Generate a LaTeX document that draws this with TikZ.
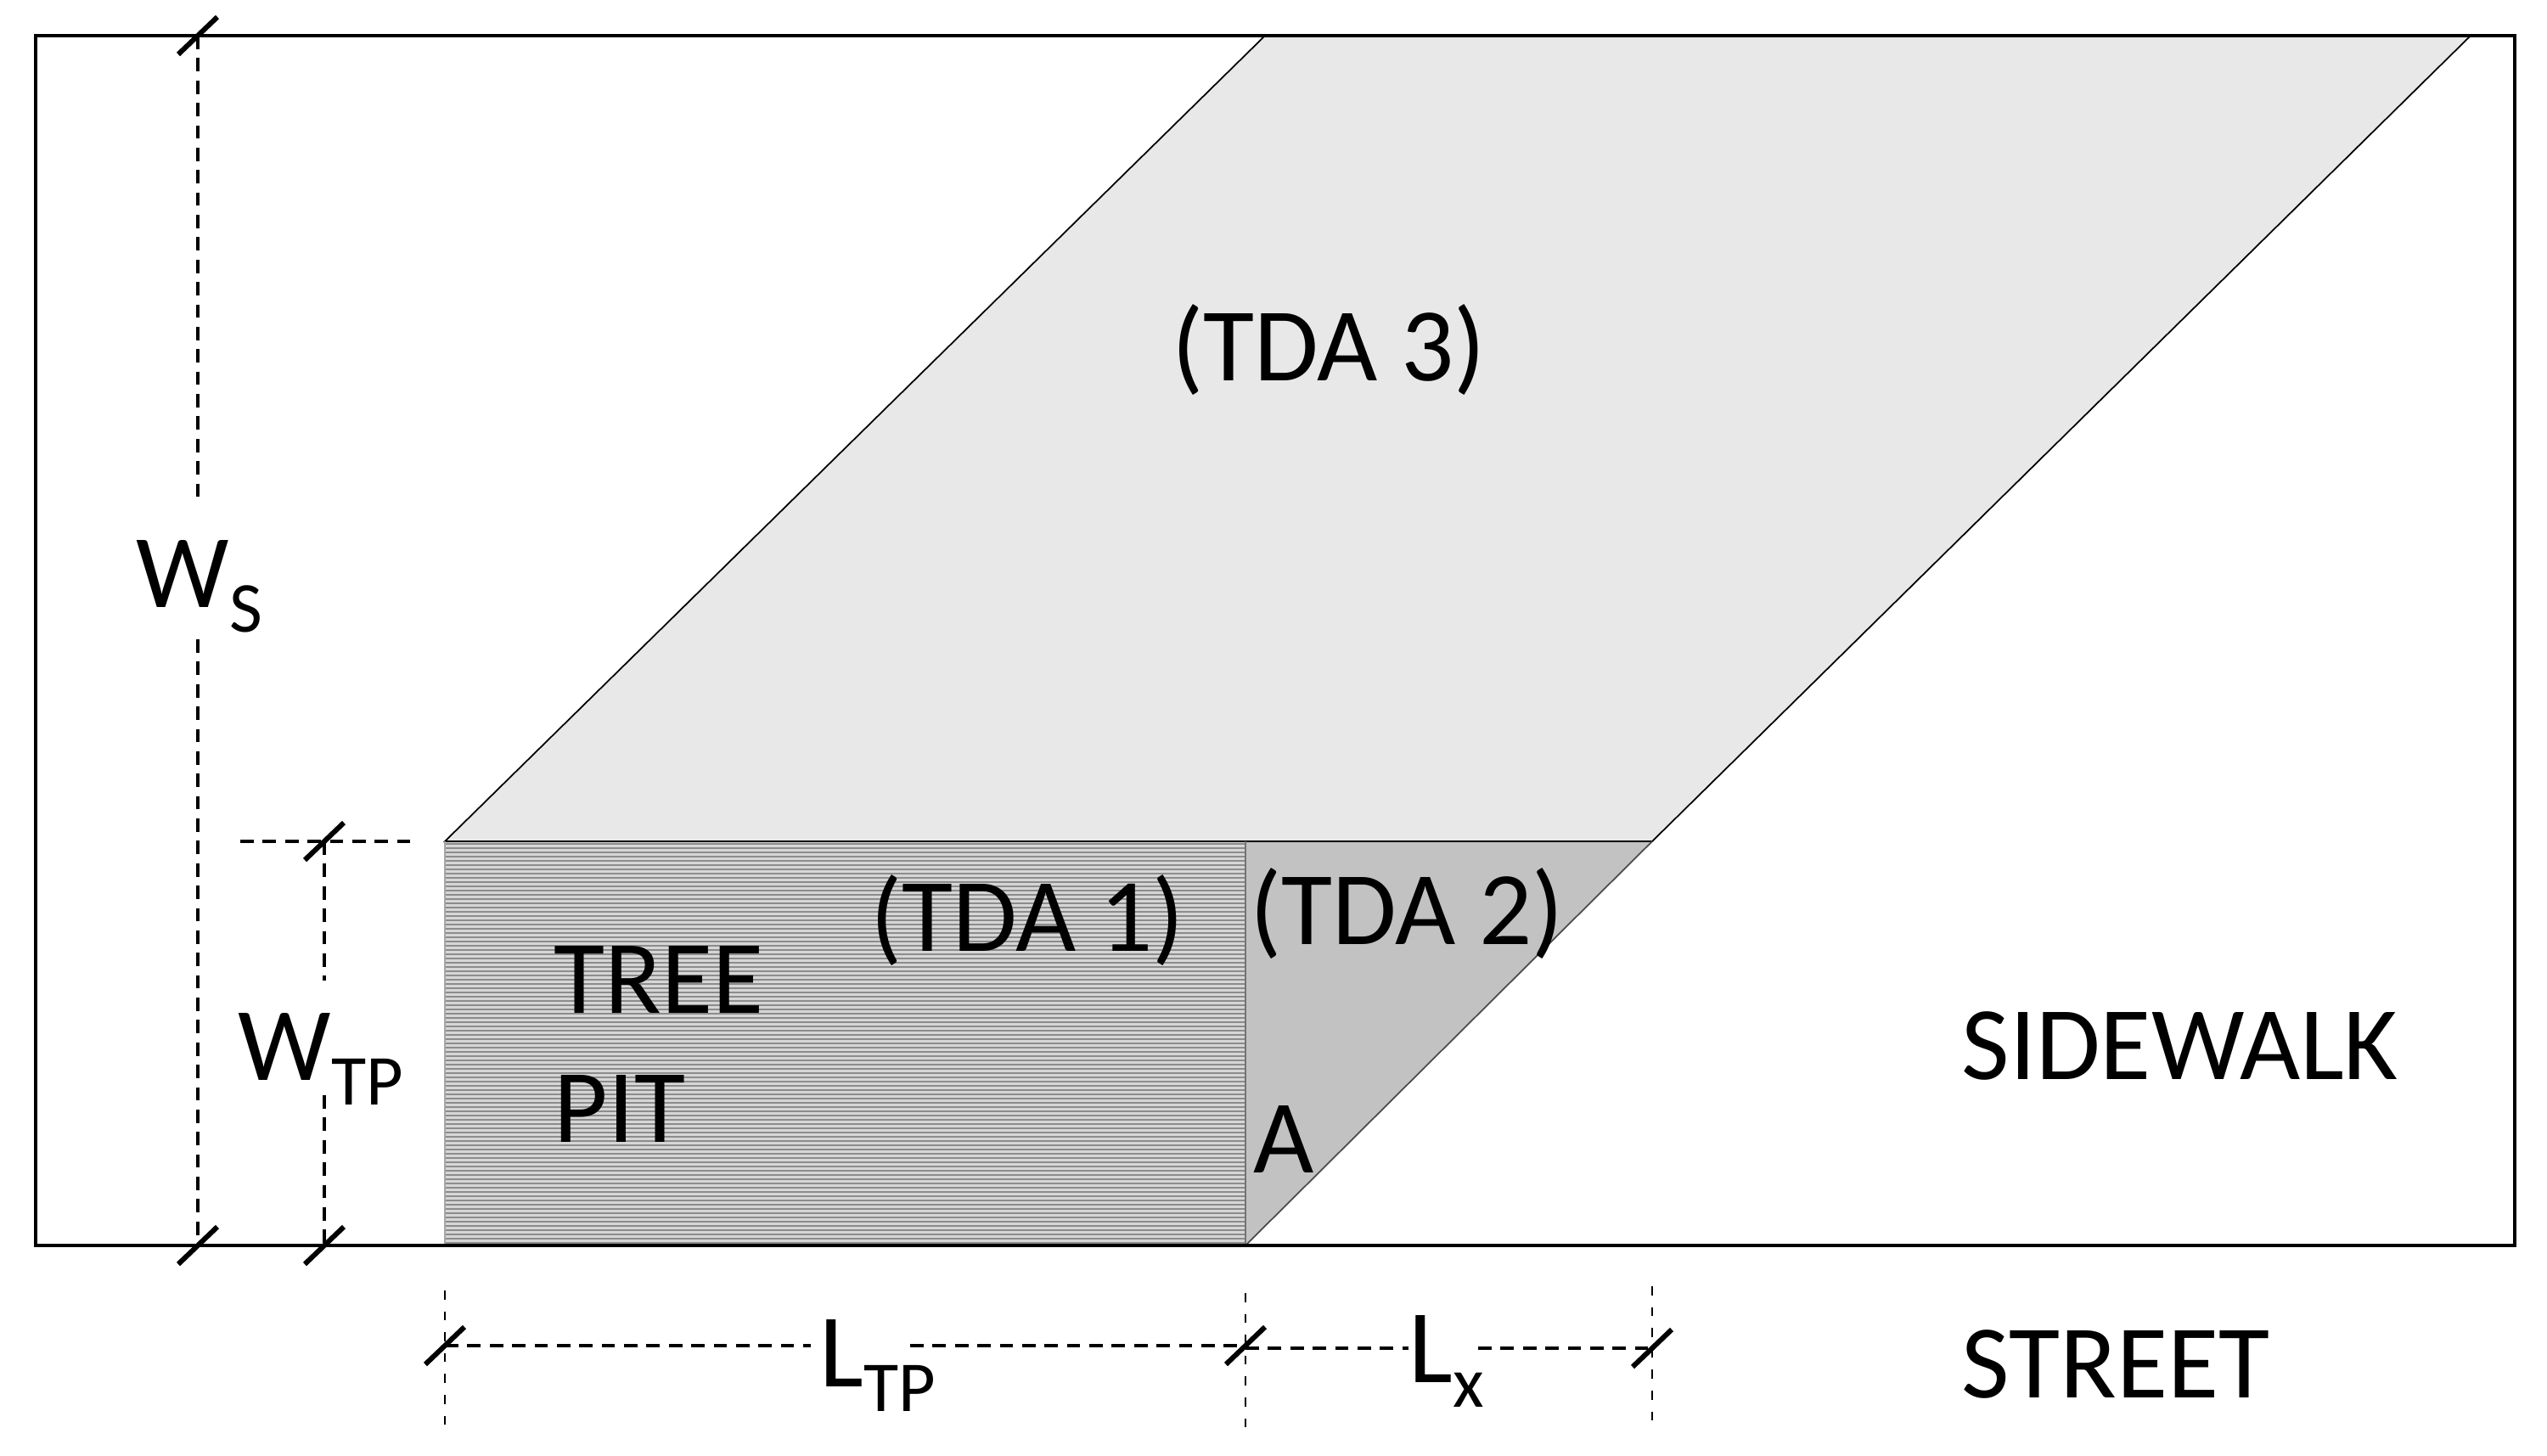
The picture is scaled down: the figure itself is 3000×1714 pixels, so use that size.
\documentclass[tikz,border=0pt]{standalone}
\usepackage{fontspec}
\setmainfont{Carlito}
\newcommand{\dimsub}[1]{\raisebox{-8.5pt}{\fontsize{24}{24}\selectfont #1}}
\begin{document}
\begin{tikzpicture}[x=0.01cm,y=-0.01cm,
  lbl/.style={inner sep=0pt, font=\fontsize{35}{42}\selectfont},
  edgeline/.style={line width=0.5pt},
  border/.style={line width=1pt},
  dimline/.style={line width=1.3pt, dash pattern=on 4.5pt off 3pt},
  extline/.style={line width=0.45pt, dash pattern=on 3pt off 4pt},
  tickmark/.style={line width=1.7pt},
]
\useasboundingbox (0,0) rectangle (3000,1714);

% key points
\coordinate (tpTL) at (524,991);
\coordinate (tpTR) at (1467,991);
\coordinate (tpBR) at (1467,1467);
\coordinate (tpBL) at (524,1467);
\coordinate (t2R) at (1946,991);
\coordinate (t3TL) at (1490,42);
\coordinate (t3TR) at (2910,42);

% fills
\fill[black!9] (tpTL) -- (t3TL) -- (t3TR) -- (t2R) -- cycle;
\fill[black!24] (tpTR) -- (t2R) -- (tpBR) -- cycle;
\fill[black!16] (tpTL) rectangle (tpBR);
\foreach \yy in {994,999,...,1464}
  \draw[black!45, line width=0.55pt] (524,\yy) -- (1467,\yy);

% outlines
\draw[edgeline] (tpTL) -- (t3TL) -- (t3TR) -- (t2R) -- cycle;
\draw[edgeline, black!70] (t2R) -- (tpBR);
\draw[edgeline, black!55] (tpTR) -- (tpBR);
\draw[edgeline, black!35] (tpTL) -- (tpBL);

% outer border
\draw[border] (42,42) rectangle (2962,1467);

% dimension W_S
\coordinate (wsT) at (233,42);
\coordinate (wsG1) at (233,588);
\coordinate (wsG2) at (233,753);
\coordinate (wsB) at (233,1467);
\draw[dimline] (wsT) -- (wsG1);
\draw[dimline] (wsG2) -- (wsB);

% dimension W_TP
\coordinate (wtT) at (382,991);
\coordinate (wtG1) at (382,1155);
\coordinate (wtG2) at (382,1290);
\coordinate (wtB) at (382,1467);
\coordinate (wtE1) at (283,991);
\coordinate (wtE2) at (483,991);
\draw[dimline] (wtT) -- (wtG1);
\draw[dimline] (wtG2) -- (wtB);
\draw[dimline] (wtE1) -- (wtE2);

% dimension L_TP and L_x
\coordinate (lA) at (524,1585);
\coordinate (lAg) at (955,1585);
\coordinate (lBg) at (1072,1585);
\coordinate (lB) at (1467,1585);
\coordinate (xA) at (1467,1588);
\coordinate (xAg) at (1659,1588);
\coordinate (xBg) at (1741,1588);
\coordinate (xB) at (1946,1588);
\draw[dimline] (lA) -- (lAg);
\draw[dimline] (lBg) -- (lB);
\draw[dimline] (xA) -- (xAg);
\draw[dimline] (xBg) -- (xB);

% extension lines
\coordinate (e1a) at (524,1520);  \coordinate (e1b) at (524,1683);
\coordinate (e2a) at (1467,1523); \coordinate (e2b) at (1467,1687);
\coordinate (e3a) at (1946,1515); \coordinate (e3b) at (1946,1677);
\draw[extline] (e1a) -- (e1b);
\draw[extline] (e2a) -- (e2b);
\draw[extline] (e3a) -- (e3b);

% tick marks
\foreach \p in {wsT, wsB, wtT, wtB, lA, lB, xB}
  \draw[tickmark, shift={(\p)}] (-23,22) -- (23,-22);

% labels
\node[lbl, anchor=base] (tda3) at (1565,448) {(TDA 3)};
\node[lbl, anchor=base] (tda1) at (1210,1120) {(TDA 1)};
\node[lbl, anchor=base] (tda2) at (1657,1112) {(TDA 2)};
\node[lbl, anchor=base west] (tree) at (652,1193) {TREE};
\node[lbl, anchor=base west] (pit) at (652,1345) {PIT};
\node[lbl, anchor=base west] (ptA) at (1476,1381) {A};
\node[lbl, anchor=base west] (sidewalk) at (2310,1271) {SIDEWALK};
\node[lbl, anchor=base west] (street) at (2310,1646) {STREET};
\node[lbl, anchor=base west] (wsl) at (160,715) {W\dimsub{S}};
\node[lbl, anchor=base west] (wtl) at (280,1272) {W\dimsub{TP}};
\node[lbl, anchor=base west] (ltl) at (965,1633) {L\dimsub{TP}};
\node[lbl, anchor=base west] (lxl) at (1659,1628) {L\dimsub{x}};
\end{tikzpicture}
\end{document}
